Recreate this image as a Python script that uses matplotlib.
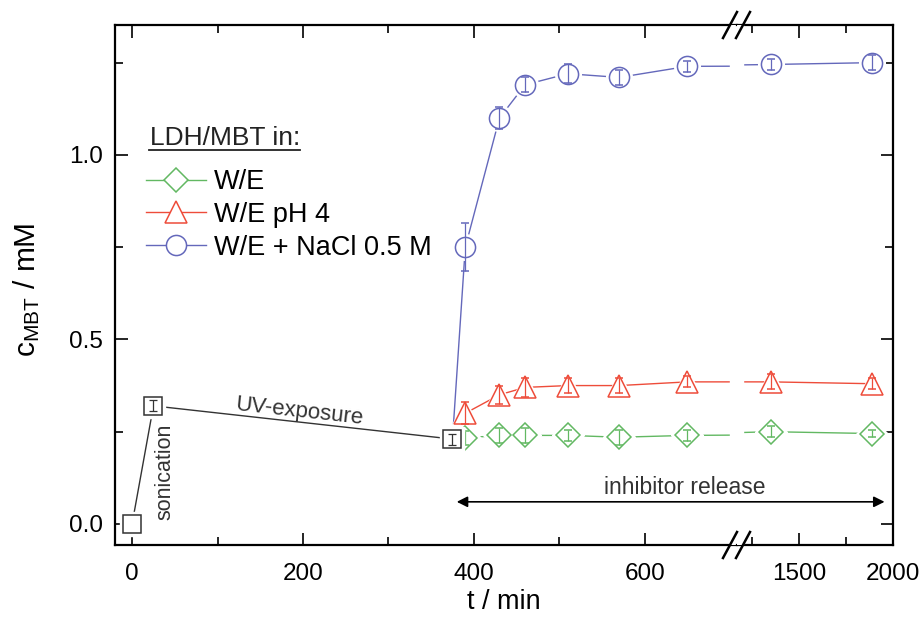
import matplotlib
matplotlib.use('Agg')
import matplotlib.pyplot as plt
from matplotlib.lines import Line2D
from matplotlib.patches import Rectangle
from matplotlib.ticker import FormatStrFormatter

plt.rcParams['font.family'] = ['Liberation Sans', 'DejaVu Sans']
plt.rcParams['mathtext.fontset'] = 'custom'
plt.rcParams['mathtext.rm'] = 'Liberation Sans'
plt.rcParams['mathtext.it'] = 'Liberation Sans:italic'

# sample preparation: sonication, then UV exposure
t_prep = [0, 25, 375]
c_prep = [0.0, 0.32, 0.23]
err_prep = [0.0, 0.015, 0.015]

# inhibitor release (first point = end of UV exposure, drawn without marker)
t_rel = [375, 390, 430, 460, 510, 570, 650, 1350, 1890]
c_we = [0.23, 0.233, 0.24, 0.24, 0.24, 0.235, 0.24, 0.25, 0.245]
err_we = [0.02, 0.02, 0.02, 0.015, 0.02, 0.015, 0.015, 0.01]
c_ph4 = [0.23, 0.30, 0.35, 0.37, 0.375, 0.375, 0.385, 0.385, 0.38]
err_ph4 = [0.03, 0.025, 0.025, 0.02, 0.02, 0.015, 0.02, 0.015]
c_nacl = [0.23, 0.75, 1.10, 1.19, 1.22, 1.21, 1.24, 1.245, 1.25]
err_nacl = [0.065, 0.03, 0.02, 0.025, 0.02, 0.015, 0.015, 0.02]

labels = ['W/E', 'W/E pH 4', 'W/E + NaCl 0.5 M']

green = '#62b862'
red = '#ee4c3a'
blue = '#6468bb'
dark = '#333333'

series = [
    (c_we, err_we, 'D', 12, green),
    (c_ph4, err_ph4, '^', 16, red),
    (c_nacl, err_nacl, 'o', 14.5, blue),
]

W, H = 922, 625


def px_box(x0, y0, x1, y1):
    return [x0 / W, 1 - y1 / H, (x1 - x0) / W, (y1 - y0) / H]


fig = plt.figure(figsize=(9.22, 6.25), dpi=100)
ax1 = fig.add_axes(px_box(115, 25, 737, 545))
ax2 = fig.add_axes(px_box(737, 25, 893, 545), sharey=ax1)


def draw(ax):
    for c, err, mk, ms, col in series:
        ax.plot(t_rel, c, color=col, lw=1.0, zorder=2)
        ax.plot(t_rel[1:], c[1:], ls='none', marker=mk, ms=ms + 4,
                mfc='white', mec='white', zorder=3)
    for c, err, mk, ms, col in series:
        ax.errorbar(t_rel[1:], c[1:], yerr=err, fmt=mk, ms=ms, mfc='none',
                    mec=col, mew=1.1, ecolor=col, elinewidth=0.9,
                    capsize=3, capthick=0.9, zorder=4)


draw(ax1)
draw(ax2)

ax1.plot(t_prep, c_prep, color=dark, lw=1.0, zorder=5)
ax1.plot(t_prep, c_prep, ls='none', marker='s', ms=17, mfc='white',
         mec='white', zorder=5)
ax1.plot(t_prep, c_prep, ls='none', marker='s', ms=13, mfc='none',
         mec=dark, mew=1.1, zorder=6)
# first point has no measurable error
ax1.errorbar(t_prep[1:], c_prep[1:], yerr=err_prep[1:], fmt='none',
             ecolor=dark, elinewidth=0.9, capsize=3, capthick=0.9, zorder=6)

# white gap at the axis break
ax1.add_patch(Rectangle((1 - 7 / 622, 0), 7 / 622, 1, transform=ax1.transAxes,
                        color='white', zorder=7))
ax2.add_patch(Rectangle((0, 0), 6 / 156, 1, transform=ax2.transAxes,
                        color='white', zorder=7))

ax1.set_xlim(-20, 708)
ax2.set_xlim(1170, 2000)
ax1.set_ylim(-0.057, 1.352)

ax1.set_xticks([0, 200, 400, 600])
ax1.set_xticks([100, 300, 500], minor=True)
ax2.set_xticks([1500, 2000])
ax2.set_xticks([1250, 1750], minor=True)
ax1.set_yticks([0.0, 0.5, 1.0])
ax1.set_yticks([0.25, 0.75, 1.25], minor=True)
ax1.yaxis.set_major_formatter(FormatStrFormatter('%.1f'))

for ax in (ax1, ax2):
    for s in ax.spines.values():
        s.set_linewidth(1.6)
    ax.tick_params(which='both', direction='in', top=True, width=1.2,
                   labelsize=17.5, pad=9)
    ax.tick_params(axis='x', which='both', pad=13)
    ax.tick_params(which='major', length=9)
    ax.tick_params(which='minor', length=5.5)

ax1.spines['right'].set_visible(False)
ax2.spines['left'].set_visible(False)
ax1.tick_params(which='both', right=False)
ax2.tick_params(which='both', left=False, right=True, labelleft=False)

ax1.set_ylabel(r'c$_{\mathrm{MBT}}$ / mM', fontsize=21.5)
ax1.yaxis.set_label_coords(-0.117, 0.49)
fig.text(504 / W, 1 - 602 / H, 't / min', ha='center', va='center', fontsize=19.5)

# break marks
for yc in (25, 545):
    for dx in (-7, 6):
        fig.add_artist(Line2D([(737 + dx - 7) / W, (737 + dx + 7) / W],
                              [1 - (yc + 13) / H, 1 - (yc - 13) / H],
                              transform=fig.transFigure, color='black', lw=1.8))

# annotations
ax1.text(38, 0.14, 'sonication', rotation=90, ha='center', va='center',
         fontsize=15.5, color=dark)
ax1.text(196, 0.305, 'UV-exposure', rotation=-6.3, ha='center', va='center',
         fontsize=16, color=dark)
fig.text(685 / W, 1 - 488 / H, 'inhibitor release', ha='center', va='center',
         fontsize=16.5, color=dark)
ax2.annotate('', xy=(1955, 0.06), xycoords=ax2.transData,
             xytext=(380, 0.06), textcoords=ax1.transData,
             arrowprops=dict(arrowstyle='<|-|>', color='black', lw=1.2,
                             mutation_scale=16, shrinkA=0, shrinkB=0),
             annotation_clip=False, zorder=10)

# legend
fig.text(150 / W, 1 - 145 / H, 'LDH/MBT in:', ha='left', va='baseline',
         fontsize=19, color='#222222')
fig.add_artist(Line2D([149 / W, 300 / W], [1 - 150 / H, 1 - 150 / H],
                      transform=fig.transFigure, color='#222222', lw=1.3))
handles = [Line2D([0], [0], color=col, lw=1.0, marker=mk, ms=ms, mfc='white',
                  mec=col, mew=1.1) for c, err, mk, ms, col in series]
ax1.legend(handles, labels, loc='upper left', frameon=False, fontsize=19.5,
           bbox_to_anchor=(146 / W, 1 - 169 / H), bbox_transform=fig.transFigure,
           borderpad=0, borderaxespad=0, handlelength=2.2, handletextpad=0.3,
           labelspacing=0.25)

fig.savefig('out.png', dpi=100)
